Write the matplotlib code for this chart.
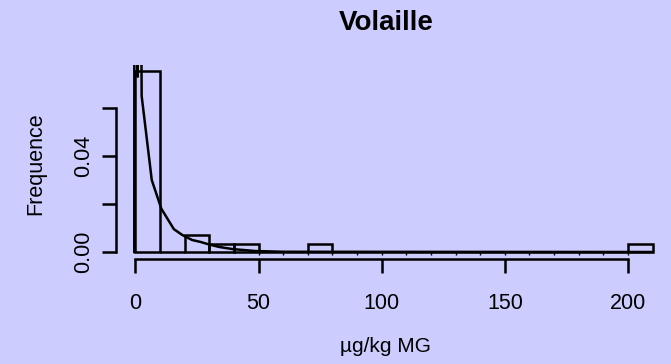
import matplotlib
matplotlib.use("Agg")
import matplotlib.pyplot as plt

# ---- data ----
bin_edges = [0, 10, 20, 30, 40, 50, 60, 70, 80, 90, 100, 110, 120, 130, 140, 150,
             160, 170, 180, 190, 200, 210]
bin_density = [0.0755, 0.0, 0.0069, 0.0034, 0.0034, 0.0, 0.0, 0.0034, 0.0, 0.0,
               0.0, 0.0, 0.0, 0.0, 0.0, 0.0, 0.0, 0.0, 0.0, 0.0, 0.0034]

curve_x = [-0.5, -0.3, 0.9, 1.3, 2.5, 6.6, 10.5, 15.6, 19.0, 23.0, 26.4, 30.0, 34.0,
           39.5, 48.8, 60.0, 210.0]
curve_y = [0, 0.5, 0.073, 0.3, 0.065, 0.030, 0.018, 0.0095, 0.0071, 0.0050, 0.0042,
           0.0031, 0.0021, 0.0012, 0.0004, 0.0001, 0.0]

rug_x = [50, 60, 70, 80, 90, 100, 110, 120, 130, 140, 150, 160, 170, 180, 190, 200]

x_ticks = [0, 50, 100, 150, 200]
x_ticklabels = ["0", "50", "100", "150", "200"]
y_ticks = [0.0, 0.02, 0.04, 0.06]
y_ticklabels = ["0.00", "", "0.04", ""]

title = "Volaille"
xlabel = "µg/kg MG"
ylabel = "Frequence"

# ---- style ----
BG = "#ccccff"
LW = 1.8
plt.rcParams["font.family"] = ["Liberation Sans", "DejaVu Sans"]

W, H = 671, 364
fig = plt.figure(figsize=(W / 100, H / 100), dpi=100, facecolor=BG)
left, right, top, bottom = 116, 655, 65, 259.3
ax = fig.add_axes([left / W, 1 - bottom / H, (right - left) / W, (bottom - top) / H])
ax.set_facecolor(BG)
ax.patch.set_alpha(0)

ax.set_xlim(-7.92, 211.0)
ax.set_ylim(-0.00304, 0.0779)

# histogram bars (drawn as outlines, as R does)
widths = [bin_edges[i + 1] - bin_edges[i] for i in range(len(bin_density))]
ax.bar(bin_edges[:-1], bin_density, width=widths, align="edge",
       facecolor="none", edgecolor="black", linewidth=LW, clip_on=True)

# density line
ax.plot(curve_x, curve_y, color="black", linewidth=LW, clip_on=True)

# small rug-like marks on the baseline
ax.vlines(rug_x, -0.0012, 0.0005, color="black", linewidth=1.0)

# axes: R style, spines only over tick range
for s in ["top", "right"]:
    ax.spines[s].set_visible(False)
ax.spines["left"].set_bounds(0, 0.06)
ax.spines["bottom"].set_bounds(0, 200)
for s in ["left", "bottom"]:
    ax.spines[s].set_linewidth(LW)

ax.set_xticks(x_ticks)
ax.set_xticklabels(x_ticklabels)
ax.set_yticks(y_ticks)
ax.set_yticklabels(y_ticklabels, rotation=90, va="center")
ax.tick_params(axis="both", length=10, width=LW, labelsize=15.5, colors="black")
ax.tick_params(axis="x", pad=14)
ax.tick_params(axis="y", pad=6)

fig.text(385.8 / W, 1 - 23 / H, title, ha="center", va="center",
         fontsize=20, fontweight="bold")
fig.text(385 / W, 1 - 347 / H, xlabel, ha="center", va="center", fontsize=15)
fig.text(36 / W, 1 - 164 / H, ylabel, ha="center", va="center", fontsize=15.5,
         rotation=90)

fig.savefig("out.png", dpi=100, facecolor=BG)
